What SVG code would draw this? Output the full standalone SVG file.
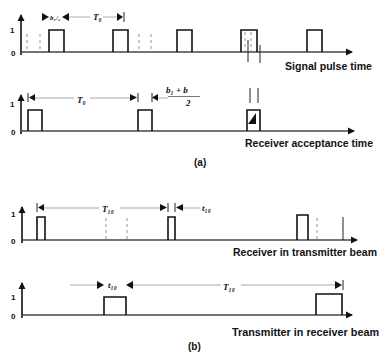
<svg xmlns="http://www.w3.org/2000/svg" width="380" height="352" viewBox="0 0 380 352">
<defs>
<marker id="ah" markerWidth="8" markerHeight="8" refX="6" refY="4" orient="auto" markerUnits="userSpaceOnUse"><path d="M0,0.5 L7,4 L0,7.5 Z" fill="#111"/></marker>
<style>
.ax{stroke:#111;stroke-width:1.6;fill:none}
.bl{stroke:#444;stroke-width:1.4;fill:none}
.p{stroke:#111;stroke-width:1.6;fill:none}
.d{stroke:#888;stroke-width:0.9;stroke-dasharray:3,3;fill:none}
.s{stroke:#222;stroke-width:1;fill:none}
.dim{stroke:#c4c4c4;stroke-width:1.4;fill:none}
.h{fill:#111}
.t{font-family:"Liberation Sans",Arial,sans-serif;font-weight:bold;font-size:10px;fill:#111}
.n{font-family:"Liberation Sans",Arial,sans-serif;font-weight:bold;font-size:8px;fill:#111}
.m{font-family:"Liberation Serif","Times New Roman",serif;font-weight:bold;font-style:italic;font-size:9px;fill:#111}
.ms{font-family:"Liberation Serif","Times New Roman",serif;font-weight:bold;font-style:italic;font-size:7px;fill:#111}
</style>
</defs>
<rect width="380" height="352" fill="#fff"/>

<!-- Row 1: Signal pulse time -->
<g id="signal-pulse">
<line class="ax" x1="21" y1="55" x2="21" y2="15" marker-end="url(#ah)"/>
<line class="bl" x1="21" y1="52" x2="352" y2="52" marker-end="url(#ah)"/>
<text class="n" x="10" y="33">1</text>
<text class="n" x="11" y="56">0</text>
<path class="p" d="M49,52 V30 H64 V52 M113,52 V30 H128 V52 M177,52 V30 H192 V52 M241,52 V30 H257 V52 M307,52 V30 H322 V52"/>
<line class="d" x1="27" y1="34" x2="27" y2="52"/>
<line class="d" x1="40" y1="34" x2="40" y2="52"/>
<line class="d" x1="139" y1="34" x2="139" y2="52"/>
<line class="d" x1="151" y1="34" x2="151" y2="52"/>
<line class="d" x1="245" y1="32" x2="245" y2="52"/>
<line class="d" x1="251" y1="32" x2="251" y2="52"/>
<line class="s" x1="248" y1="40" x2="248" y2="62"/>
<line class="s" x1="260" y1="45" x2="260" y2="63"/>
<path class="h" d="M42,13 L49,17 L42,21 Z M69,13 L62,17 L69,21 Z"/>
<text class="ms" x="50" y="20">b₁/₂</text>
<line class="dim" x1="69" y1="17" x2="90" y2="17"/>
<text class="m" x="93" y="20">T₀</text>
<line class="dim" x1="103" y1="17" x2="117" y2="17"/>
<path class="h" d="M117,13 L123,17 L117,21 Z"/>
<line class="s" x1="124" y1="12" x2="124" y2="22"/>
<text class="t" x="285" y="70" textLength="87" lengthAdjust="spacingAndGlyphs">Signal pulse time</text>
</g>

<!-- Row 2: Receiver acceptance time -->
<g id="receiver-acceptance">
<line class="ax" x1="21" y1="134" x2="21" y2="95" marker-end="url(#ah)"/>
<line class="bl" x1="21" y1="131" x2="354" y2="131" marker-end="url(#ah)"/>
<text class="n" x="10" y="107">1</text>
<text class="n" x="11" y="135">0</text>
<path class="p" d="M28,131 V110 H42 V131 M138,131 V110 H152 V131 M247,131 V110 H260 V131"/>
<path class="h" d="M248,124 L256,113 L256,124 Z"/>
<line class="s" x1="250" y1="88" x2="250" y2="103"/>
<line class="s" x1="258" y1="88" x2="258" y2="103"/>
<line class="s" x1="28" y1="93" x2="28" y2="102"/>
<path class="h" d="M29,97.5 L35,94 L35,101 Z"/>
<line class="dim" x1="35" y1="98" x2="74" y2="98"/>
<text class="m" x="77" y="103">T₀</text>
<line class="dim" x1="90" y1="98" x2="130" y2="98"/>
<path class="h" d="M130,94 L137,97.5 L130,101 Z"/>
<line class="s" x1="138" y1="93" x2="138" y2="102"/>
<line class="s" x1="152" y1="93" x2="152" y2="102"/>
<path class="h" d="M152,97.5 L158,94 L158,101 Z"/>
<line class="dim" x1="158" y1="98" x2="168" y2="98"/>
<text class="m" x="166" y="93">b₁ + b</text>
<line x1="168" y1="96.5" x2="200" y2="96.5" stroke="#555" stroke-width="0.8"/>
<text class="m" x="186" y="106">2</text>
<text class="t" x="245" y="147" textLength="128" lengthAdjust="spacingAndGlyphs">Receiver acceptance time</text>
<text class="t" x="194" y="166">(a)</text>
</g>

<!-- Row 3: Receiver in transmitter beam -->
<g id="receiver-in-transmitter-beam">
<line class="ax" x1="22" y1="243" x2="22" y2="207" marker-end="url(#ah)"/>
<line class="bl" x1="22" y1="240" x2="357" y2="240" marker-end="url(#ah)"/>
<text class="n" x="11" y="217">1</text>
<text class="n" x="11" y="244">0</text>
<path class="p" d="M37,240 V217 H45 V240 M168,240 V217 H175 V240 M297,240 V215 H308 V240"/>
<line class="d" x1="106" y1="218" x2="106" y2="240"/>
<line class="d" x1="127" y1="218" x2="127" y2="240"/>
<line class="d" x1="317" y1="218" x2="317" y2="240"/>
<line class="s" x1="343" y1="217" x2="343" y2="240"/>
<line class="s" x1="37" y1="203" x2="37" y2="212"/>
<path class="h" d="M38,207.5 L44,204 L44,211 Z"/>
<line class="dim" x1="44" y1="208" x2="99" y2="208"/>
<text class="m" x="102" y="212">T₁₀</text>
<line class="dim" x1="120" y1="208" x2="160" y2="208"/>
<path class="h" d="M160,204 L167,207.5 L160,211 Z"/>
<line class="s" x1="168" y1="203" x2="168" y2="212"/>
<line class="s" x1="175" y1="203" x2="175" y2="212"/>
<path class="h" d="M176,207.5 L183,204 L183,211 Z"/>
<line class="dim" x1="183" y1="208" x2="200" y2="208"/>
<text class="m" x="202" y="211">t₁₀</text>
<text class="t" x="233" y="256" textLength="144" lengthAdjust="spacingAndGlyphs">Receiver in transmitter beam</text>
</g>

<!-- Row 4: Transmitter in receiver beam -->
<g id="transmitter-in-receiver-beam">
<line class="ax" x1="22" y1="318" x2="22" y2="283" marker-end="url(#ah)"/>
<line class="bl" x1="22" y1="315" x2="352" y2="315" marker-end="url(#ah)"/>
<text class="n" x="11" y="300">1</text>
<text class="n" x="11" y="319">0</text>
<path class="p" d="M104,315 V297 H126 V315 M316,315 V294 H342 V315"/>
<line class="dim" x1="70" y1="285" x2="97" y2="285"/>
<path class="h" d="M97,281 L104,285 L97,289 Z"/>
<text class="m" x="108" y="288">t₁₀</text>
<path class="h" d="M133,281 L126,285 L133,289 Z"/>
<line class="dim" x1="133" y1="285" x2="221" y2="285"/>
<text class="m" x="223" y="290">T₁₀</text>
<line class="dim" x1="241" y1="285" x2="335" y2="285"/>
<path class="h" d="M335,281 L342,285 L335,289 Z"/>
<line class="s" x1="343" y1="280" x2="343" y2="290"/>
<text class="t" x="232" y="336" textLength="147" lengthAdjust="spacingAndGlyphs">Transmitter in receiver beam</text>
<text class="t" x="188" y="350">(b)</text>
</g>
</svg>
